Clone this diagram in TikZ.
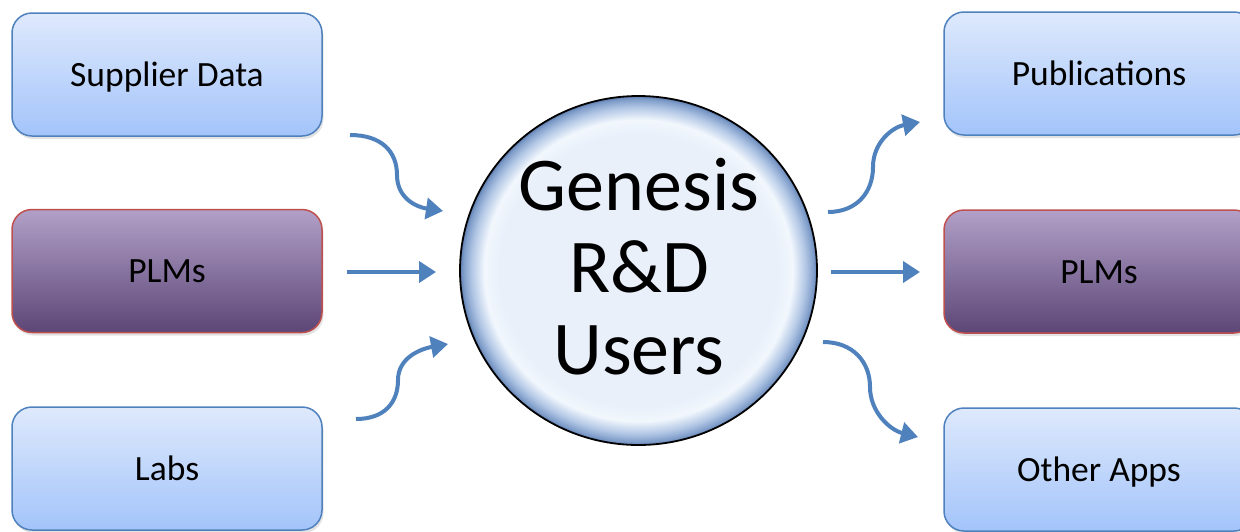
\documentclass[tikz,border=0pt]{standalone}
\usepackage{fontspec}
\setmainfont{Carlito}
\usetikzlibrary{arrows.meta,shadows,shapes.geometric}
\definecolor{arrowblue}{RGB}{79,129,189}
\definecolor{bluetop}{RGB}{222,233,252}
\definecolor{bluebot}{RGB}{163,196,250}
\definecolor{blueedge}{RGB}{79,129,189}
\definecolor{purptop}{RGB}{178,160,200}
\definecolor{purpbot}{RGB}{92,70,118}
\definecolor{redge}{RGB}{192,80,77}
\definecolor{bubin}{RGB}{233,240,250}
\definecolor{bubhi}{RGB}{242,247,253}
\definecolor{bubmid}{RGB}{178,199,229}
\definecolor{bubout}{RGB}{125,155,200}
\definecolor{bubedge}{RGB}{95,125,175}
\pgfdeclareradialshading{bubble}{\pgfpoint{0bp}{0bp}}{color(0bp)=(bubin); color(19.5bp)=(bubin); color(21.6bp)=(bubhi); color(23.4bp)=(bubmid); color(24.6bp)=(bubout); color(25bp)=(bubedge); color(50bp)=(bubedge)}
\tikzset{
  boxbase/.style={rectangle, rounded corners=20pt, minimum width=310pt, minimum height=123pt,
    inner sep=0pt, line width=1.5pt, text=black, font=\fontsize{35.5}{40}\selectfont,
    text height=23pt, text depth=0pt,
    drop shadow={opacity=0.22, shadow xshift=1.5pt, shadow yshift=-3pt}},
  bluebox/.style={boxbase, draw=blueedge, top color=bluetop, bottom color=bluebot},
  purpbox/.style={boxbase, draw=redge, top color=purptop, bottom color=purpbot},
  hub/.style={ellipse, minimum width=357pt, minimum height=349pt, inner sep=0pt, draw=black,
    line width=1.8pt, shading=bubble},
  hubtext/.style={align=center, inner sep=0pt, text=black, font=\fontsize{76}{82}\selectfont},
  flow/.style={draw=arrowblue, line width=4pt, -{Triangle[length=17pt,width=21pt]}}
}
\begin{document}
\begin{tikzpicture}[x=1pt,y=-1pt]
\useasboundingbox (0,0) rectangle (1240,531);
\clip (0,0) rectangle (1240,531);
\fill[white] (0,0) rectangle (1240,531);
% left boxes
\node[bluebox] (sup) at (167,74.5) {Supplier Data};
\node[purpbox] (plml) at (167,271) {PLMs};
\node[bluebox] (labs) at (167,468.5) {Labs};
% right boxes
\node[bluebox] (pub) at (1099,73.5) {Publications};
\node[purpbox] (plmr) at (1099,271.5) {PLMs};
\node[bluebox] (oth) at (1099,469.5) {Other Apps};
% hub
\node[hub] (gen) at (638.5,270.5) {};
\node[hubtext] (gentxt) at (639,266.5) {Genesis\\R\&D\\Users};
% connector ends
\coordinate (a1s) at (350,135);
\coordinate (a1e) at (443,211);
\coordinate (a2s) at (347,272);
\coordinate (a2e) at (436,272);
\coordinate (a3s) at (356,419);
\coordinate (a3e) at (448,344);
\coordinate (b1s) at (828,212);
\coordinate (b1e) at (920,122);
\coordinate (b2s) at (831,272);
\coordinate (b2e) at (920,272);
\coordinate (b3s) at (823,342);
\coordinate (b3e) at (918,437);
% arrows
\draw[flow] (a1s) .. controls (382,135) and (397,152) .. (397,175) .. controls (397,198) and (416,207) .. (a1e);
\draw[flow] (a2s) -- (a2e);
\draw[flow] (a3s) .. controls (385,419) and (398,402) .. (398,380) .. controls (398,358) and (420,349) .. (a3e);
\draw[flow] (b1s) .. controls (857,212) and (873,192) .. (873,167) .. controls (873,142) and (893,127) .. (b1e);
\draw[flow] (b2s) -- (b2e);
\draw[flow] (b3s) .. controls (853,342) and (870,362) .. (870,387) .. controls (870,412) and (890,430) .. (b3e);
\end{tikzpicture}
\end{document}
